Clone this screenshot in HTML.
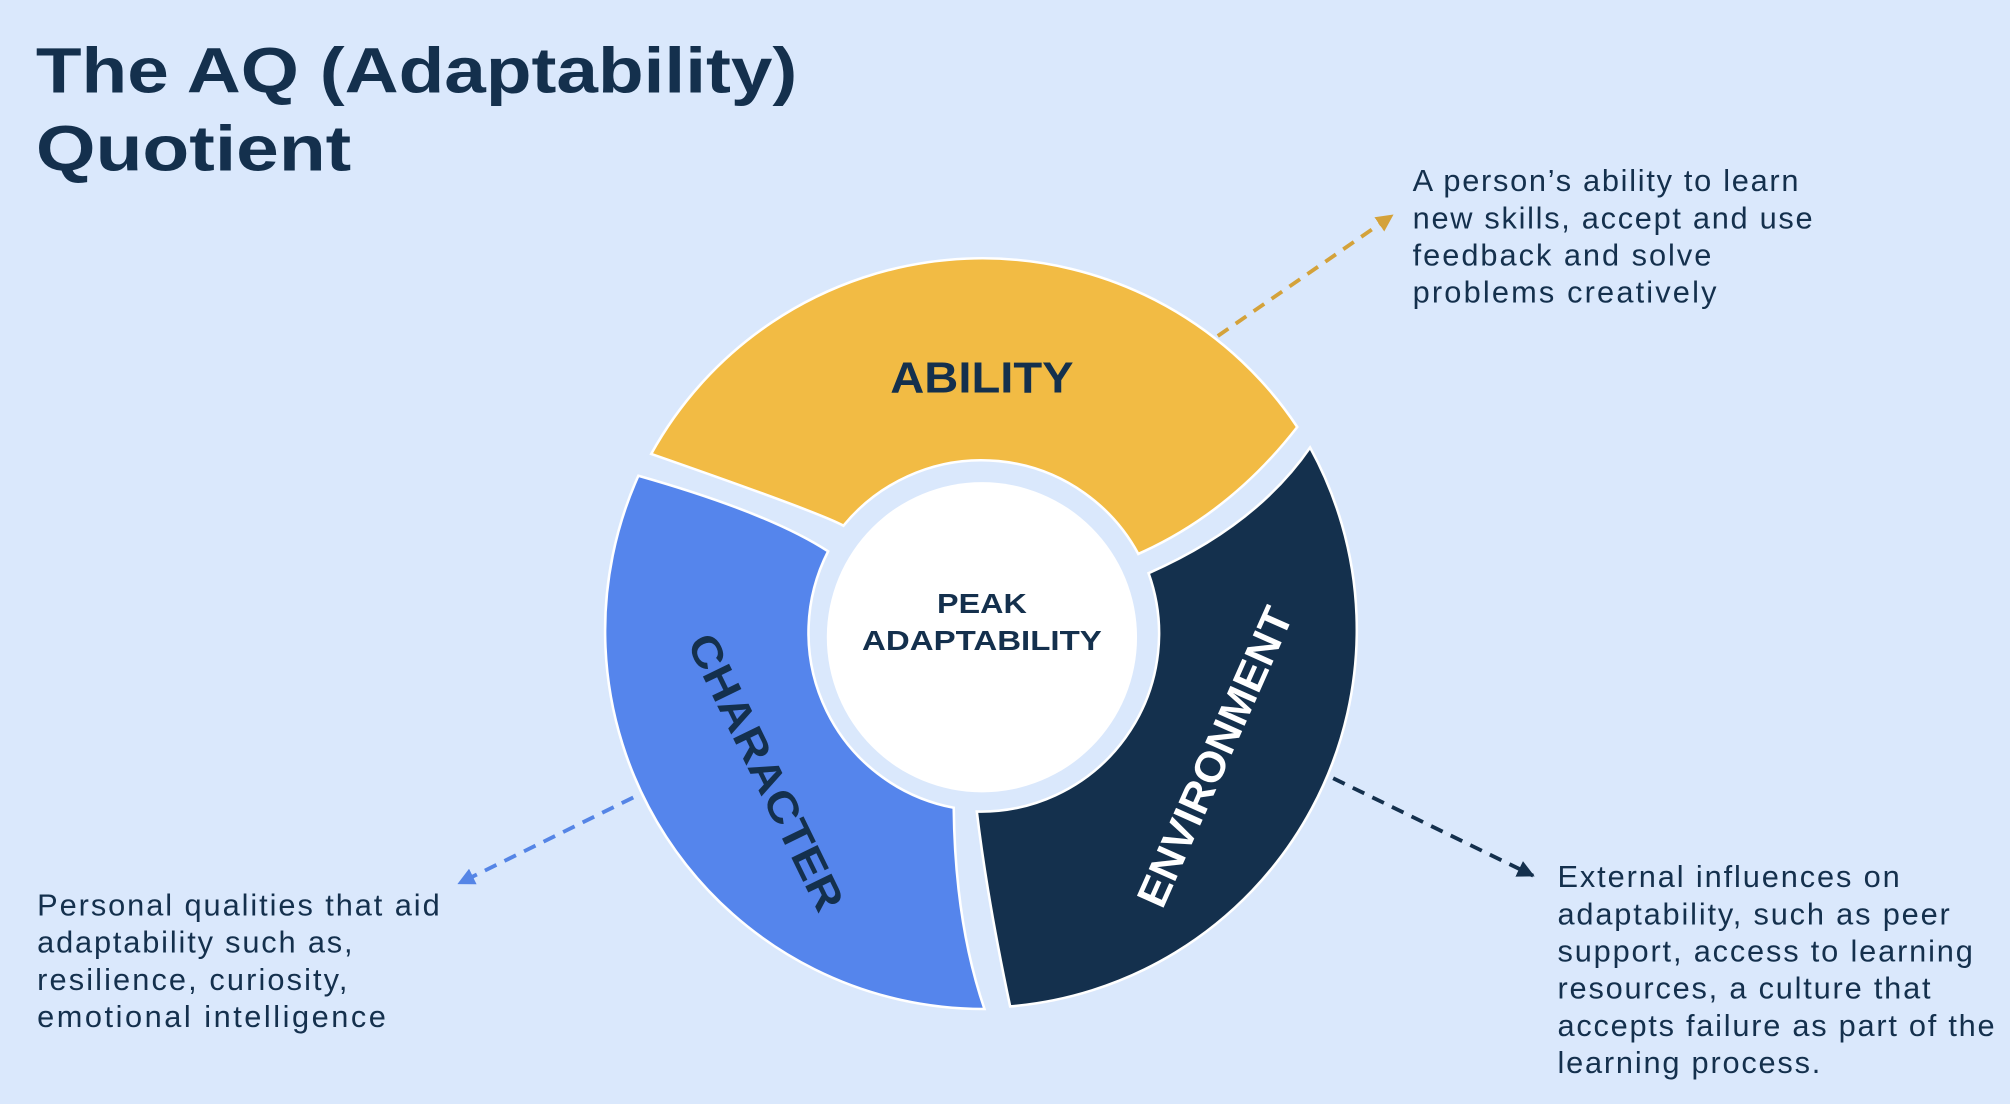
<!DOCTYPE html>
<html><head><meta charset="utf-8"><style>
html,body{margin:0;padding:0;background:#dae8fc;}
svg{display:block;}
text{font-family:"Liberation Sans",sans-serif;}
</style></head><body>
<svg width="2010" height="1104" viewBox="0 0 1568 861" xmlns="http://www.w3.org/2000/svg">
<defs>
<marker id="mg" viewBox="0 0 10 10" refX="9" refY="5" markerWidth="4.5" markerHeight="4.5" orient="auto"><path d="M0,0 L10,5 L0,10 Z" fill="#d4a23a"/></marker>
<marker id="mb" viewBox="0 0 10 10" refX="9" refY="5" markerWidth="4.5" markerHeight="4.5" orient="auto"><path d="M0,0 L10,5 L0,10 Z" fill="#5585e6"/></marker>
<marker id="md" viewBox="0 0 10 10" refX="9" refY="5" markerWidth="4.5" markerHeight="4.5" orient="auto"><path d="M0,0 L10,5 L0,10 Z" fill="#14304d"/></marker>
</defs>
<rect width="1568" height="861" fill="#dae8fc"/>
<text x="28" y="72" font-size="50" font-weight="bold" fill="#14304d" textLength="594" lengthAdjust="spacingAndGlyphs">The AQ (Adaptability)</text>
<text x="28" y="133" font-size="50" font-weight="bold" fill="#14304d" textLength="246" lengthAdjust="spacingAndGlyphs">Quotient</text>

<path d="M508 354 Q640 400 658 410 A139 139 0 0 1 888 432 Q960 400 1012 333 A295 295 0 0 0 508 354 Z" fill="#f2bb44" stroke="#fff" stroke-width="2"/>
<path d="M1022 349 A295 295 0 0 1 788 785 Q770 700 762 633 A139 139 0 0 0 896 447 Q980 410 1022 349 Z" fill="#14304d" stroke="#fff" stroke-width="2"/>
<path d="M768 787 A295 295 0 0 1 498 371 Q600 400 646 430 A139 139 0 0 0 744 630 Q745 720 768 787 Z" fill="#5585ec" stroke="#fff" stroke-width="2"/>
<circle cx="766" cy="497" r="121" fill="#fff"/>

<text x="766" y="306" font-size="34" font-weight="bold" fill="#14304d" text-anchor="middle" textLength="143" lengthAdjust="spacingAndGlyphs">ABILITY</text>
<text x="766" y="478" font-size="22" font-weight="bold" fill="#14304d" text-anchor="middle" textLength="70" lengthAdjust="spacingAndGlyphs">PEAK</text>
<text x="766" y="507" font-size="22" font-weight="bold" fill="#14304d" text-anchor="middle" textLength="187" lengthAdjust="spacingAndGlyphs">ADAPTABILITY</text>
<text transform="translate(598,602) rotate(64)" x="-118" font-size="33" font-weight="bold" fill="#14304d" dy="12" textLength="236" lengthAdjust="spacingAndGlyphs">CHARACTER</text>
<text transform="translate(947,590) rotate(-66)" x="-126" font-size="33" font-weight="bold" fill="#fff" dy="12" textLength="252" lengthAdjust="spacingAndGlyphs">ENVIRONMENT</text>

<line x1="950" y1="262" x2="1086" y2="168" stroke="#d4a23a" stroke-width="3" stroke-dasharray="10,7" marker-end="url(#mg)"/>
<line x1="494" y1="622" x2="358" y2="689" stroke="#5585e6" stroke-width="3" stroke-dasharray="10,7" marker-end="url(#mb)"/>
<line x1="1040" y1="607" x2="1196" y2="683" stroke="#14304d" stroke-width="3" stroke-dasharray="10,7" marker-end="url(#md)"/>

<g font-size="24" fill="#14304d" lengthAdjust="spacingAndGlyphs">
<text x="1102" y="149" textLength="301">A person’s ability to learn</text>
<text x="1102" y="178" textLength="312">new skills, accept and use</text>
<text x="1102" y="207" textLength="233">feedback and solve</text>
<text x="1102" y="236" textLength="237">problems creatively</text>
<text x="29" y="714" textLength="314">Personal qualities that aid</text>
<text x="29" y="743" textLength="246">adaptability such as,</text>
<text x="29" y="772" textLength="242">resilience, curiosity,</text>
<text x="29" y="801" textLength="272">emotional intelligence</text>
<text x="1215" y="692" textLength="267">External influences on</text>
<text x="1215" y="721" textLength="306">adaptability, such as peer</text>
<text x="1215" y="750" textLength="324">support, access to learning</text>
<text x="1215" y="779" textLength="291">resources, a culture that</text>
<text x="1215" y="808" textLength="341">accepts failure as part of the</text>
<text x="1215" y="837" textLength="205">learning process.</text>
</g>
</svg>
</body></html>
